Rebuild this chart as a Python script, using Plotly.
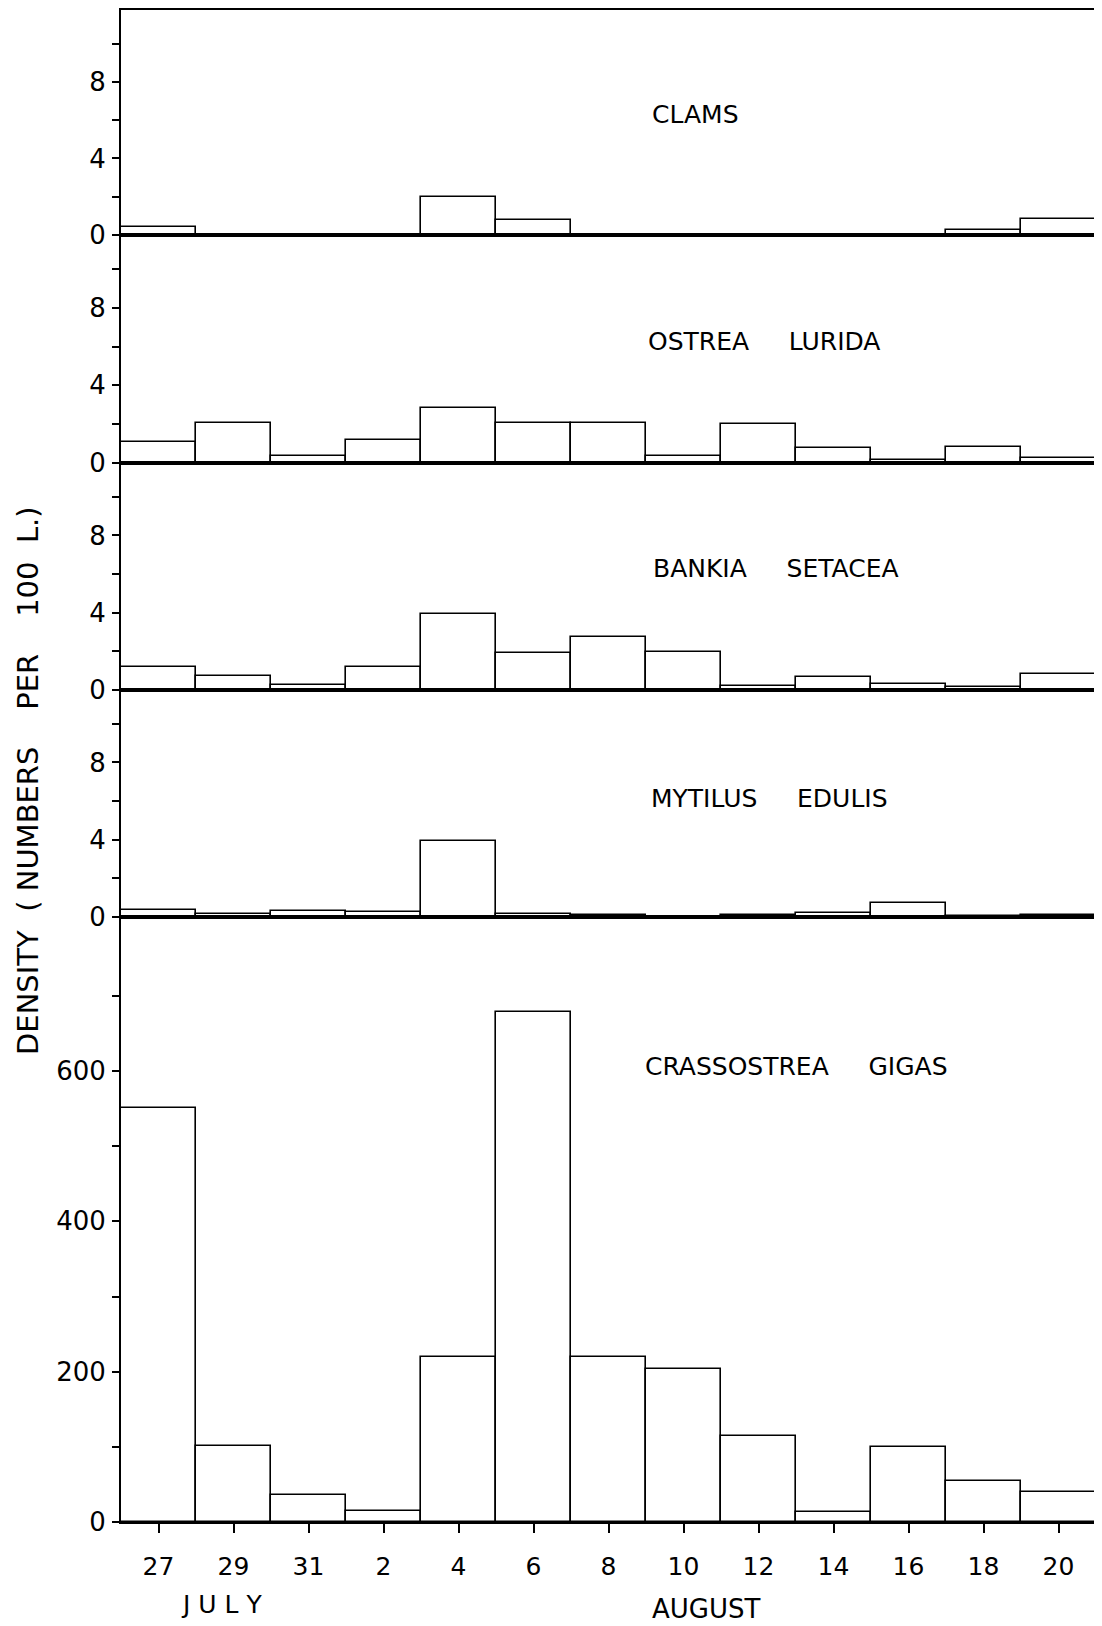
import plotly.graph_objects as go

# ---- data ----
dates = ["27", "29", "31", "2", "4", "6", "8", "10", "12", "14", "16", "18", "20"]
clams = [0.4, 0, 0, 0, 2.0, 0.8, 0, 0, 0, 0, 0, 0.25, 0.85]
ostrea_lurida = [1.1, 2.05, 0.35, 1.17, 2.85, 2.05, 2.05, 0.35, 2.0, 0.75, 0.15, 0.85, 0.25]
bankia_setacea = [1.18, 0.7, 0.25, 1.18, 3.95, 1.9, 2.75, 1.95, 0.2, 0.68, 0.32, 0.15, 0.84]
mytilus_edulis = [0.38, 0.18, 0.3, 0.28, 3.95, 0.18, 0.12, 0, 0.12, 0.2, 0.75, 0.05, 0.12]
crassostrea_gigas = [551, 101, 36, 14, 220, 678, 220, 203, 115, 13, 100, 54, 40]

SP = "\u00a0"
panels = [
    ("CLAMS", clams),
    ("OSTREA" + SP * 5 + "LURIDA", ostrea_lurida),
    ("BANKIA" + SP * 5 + "SETACEA", bankia_setacea),
    ("MYTILUS" + SP * 5 + "EDULIS", mytilus_edulis),
    ("CRASSOSTREA" + SP * 5 + "GIGAS", crassostrea_gigas),
]

small_ticks = [0, 2, 4, 6, 8, 10]
small_text = ["0", "", "4", "", "8", ""]
big_ticks = [0, 100, 200, 300, 400, 500, 600, 700]
big_text = ["0", "", "200", "", "400", "", "600", ""]

# ---- layout geometry (page pixels; page body has an 8px margin) ----
OFF = 8
PAGE_W, PAGE_H = 1102, 1626
W, H = PAGE_W - OFF, PAGE_H - OFF
left_px, right_px, top_px, bottom_px = 121, 1096, 10, 1522
L = left_px - OFF
R = PAGE_W - right_px
T = top_px - OFF
B = PAGE_H - bottom_px
plot_h = bottom_px - top_px
plot_w = right_px - left_px
bounds_px = [10, 235, 463, 690, 917, 1522]

def ypaper(y):
    return (bottom_px - y) / plot_h

def xpaper(x):
    return (x - left_px) / plot_w

FONT = "DejaVu Sans"
fig = go.Figure()
xs = list(range(len(dates)))

label_pos = [(650, 114), (646, 342), (651, 568), (649, 798), (643, 1066)]

for i, (name, vals) in enumerate(panels):
    n = i + 1
    xa = "x" if n == 1 else f"x{n}"
    ya = "y" if n == 1 else f"y{n}"
    fig.add_trace(go.Bar(
        x=xs, y=vals, width=1, xaxis=xa, yaxis=ya,
        marker=dict(color="white", line=dict(color="black", width=1.6)),
        showlegend=False, hoverinfo="skip",
    ))
    dom = [ypaper(bounds_px[i + 1]), ypaper(bounds_px[i])]
    last = (n == 5)
    xkey = "xaxis" if n == 1 else f"xaxis{n}"
    ykey = "yaxis" if n == 1 else f"yaxis{n}"
    xcfg = dict(
        domain=[0, 1], anchor=ya, range=[-0.5, len(dates) - 0.5],
        showline=True, mirror=True, linecolor="black", linewidth=2,
        showgrid=False, zeroline=False, fixedrange=True,
    )
    if last:
        xcfg.update(tickmode="array", tickvals=xs, ticktext=dates,
                    ticks="outside", ticklen=9, tickwidth=2, tickcolor="black",
                    tickfont=dict(family=FONT, size=25, color="black"),
                    ticklabelstandoff=12)
    else:
        xcfg.update(showticklabels=False, ticks="", matches="x5")
    if last:
        yr = [0, 805]
        tv, tt = big_ticks, big_text
    else:
        yr = [0, 11.75]
        tv, tt = small_ticks, small_text
    ycfg = dict(
        domain=dom, anchor=xa, range=yr,
        showline=True, mirror=True, linecolor="black", linewidth=2,
        showgrid=False, zeroline=False, fixedrange=True,
        tickmode="array", tickvals=tv, ticktext=tt,
        ticks="outside", ticklen=7, tickwidth=2, tickcolor="black",
        tickfont=dict(family=FONT, size=26, color="black"),
        ticklabelstandoff=1,
    )
    fig.update_layout(**{xkey: xcfg, ykey: ycfg})
    lx, ly = label_pos[i]
    fig.add_annotation(
        text=name, x=xpaper(lx), y=ypaper(ly), xref="paper", yref="paper",
        xanchor="left", yanchor="middle", showarrow=False,
        font=dict(family=FONT, size=25, color="black"),
    )

fig.add_annotation(
    text="DENSITY" + SP * 2 + "(" + SP + "NUMBERS" + SP * 4 + "PER" + SP * 4 + "100" + SP * 2 + "L.)",
    x=xpaper(28), y=ypaper(781), xref="paper", yref="paper",
    textangle=-90, showarrow=False, xanchor="center", yanchor="middle",
    font=dict(family=FONT, size=29, color="black"),
)
fig.add_annotation(
    text="J" + SP + "U" + SP + "L" + SP + "Y", x=xpaper(221), y=ypaper(1604), xref="paper", yref="paper",
    showarrow=False, xanchor="center", yanchor="middle",
    font=dict(family=FONT, size=25, color="black"),
)
fig.add_annotation(
    text="AUGUST", x=xpaper(706), y=ypaper(1609), xref="paper", yref="paper",
    showarrow=False, xanchor="center", yanchor="middle",
    font=dict(family=FONT, size=26, color="black"),
)

fig.update_layout(
    width=W, height=H, margin=dict(l=L, r=R, t=T, b=B, autoexpand=False),
    paper_bgcolor="white", plot_bgcolor="white", bargap=0,
)

fig.write_html("out.html")
